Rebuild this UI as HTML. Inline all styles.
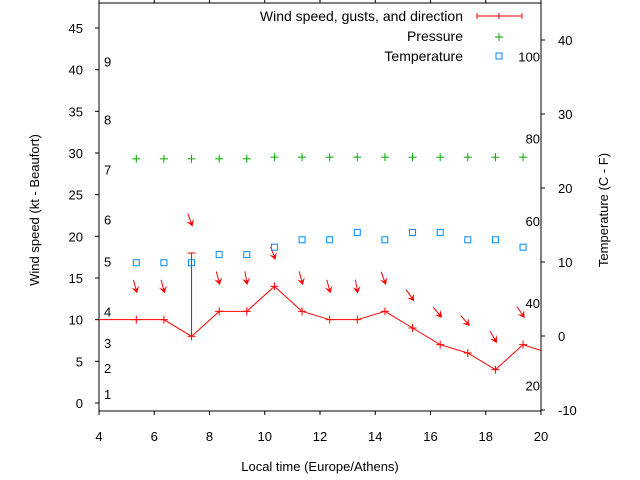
<!DOCTYPE html>
<html><head><meta charset="utf-8"><style>
body{margin:0;background:#fff}
svg{display:block;font-family:"Liberation Sans",sans-serif}
</style></head><body>
<svg id="chart" width="640" height="480" viewBox="0 0 640 480"></svg>
<script>
const hours=[5.35,6.35,7.35,8.35,9.35,10.35,11.35,12.35,13.35,14.35,15.35,16.35,17.35,18.35,19.35];
const wind=[10,10,8,11,11,14,11,10,10,11,9,7,6,4,7];
const gust=[0,0,18,0,0,0,0,0,0,0,0,0,0,0,0];
const windStart=[4,10];
const windEnd=[20,6.3];
const dirs=[345,345,340,345,350,340,345,345,350,340,325,320,320,330,325];
const pressure=[29.3,29.3,29.3,29.3,29.3,29.5,29.5,29.5,29.5,29.5,29.5,29.5,29.5,29.5,29.5];
const tempC=[9.9,9.9,9.9,11,11,12,13,13,14,13,14,14,13,13,12];
const xTicks=[4,6,8,10,12,14,16,18,20];
const yTicks=[0,5,10,15,20,25,30,35,40,45];
const y2Ticks=[-10,0,10,20,30,40];
const fLabels=[20,40,60,80,100];
const bftLabels=[[1,1.1],[2,4.2],[3,7.2],[4,11],[5,17],[6,22],[7,28],[8,34],[9,41]];

const L=99,R=541,T=3,B=411;
const X=h=>L+(h-4)*(R-L)/16;
const Y=v=>403-v*(375/45);
const Y2=c=>336-c*7.4;
const Yf=f=>Y2((f-32)*5/9);
const svg=document.getElementById('chart');
const NS='http://www.w3.org/2000/svg';
function mk(tag,attrs,parent){const e=document.createElementNS(NS,tag);for(const k in attrs)e.setAttribute(k,attrs[k]);(parent||svg).appendChild(e);return e;}
function txt(x,y,s,anchor,extra){const e=mk('text',Object.assign({x:x,y:y,'font-size':13,'text-anchor':anchor||'middle',fill:'#000'},extra||{}));e.textContent=s;return e;}

let e=mk('rect',{x:L,y:T,width:R-L,height:B-T,fill:'none',stroke:'#000','stroke-width':1});


xTicks.forEach(t=>{mk('line',{x1:X(t),x2:X(t),y1:B,y2:B+4,stroke:'#000'});mk('line',{x1:X(t),x2:X(t),y1:T,y2:T-4,stroke:'#000'});
 const l=txt(X(t),441,String(t));});
yTicks.forEach(t=>{mk('line',{x1:L-4,x2:L,y1:Y(t),y2:Y(t),stroke:'#000'});
 const l=txt(83,Y(t)+5,String(t),'end');});
y2Ticks.forEach(t=>{mk('line',{x1:R,x2:R+4,y1:Y2(t),y2:Y2(t),stroke:'#000'});
 const l=txt(558,Y2(t)+5,String(t),'start');});
fLabels.forEach(f=>{const l=txt(540,Yf(f)+5,String(f),'end');});
bftLabels.forEach(b=>{const l=txt(104,Y(b[1])+5,String(b[0]),'start');});

let t1=txt(320,471,'Local time (Europe/Athens)');
let t2=txt(0,0,'Wind speed (kt - Beaufort)','middle',{transform:'translate(39,210) rotate(-90)'});
let t3=txt(0,0,'Temperature (C - F)','middle',{transform:'translate(608,210) rotate(-90)'});

// wind line
let pts=[[X(windStart[0]),Y(windStart[1])]];
hours.forEach((h,i)=>pts.push([X(h),Y(wind[i])]));
pts.push([X(windEnd[0]),Y(windEnd[1])]);
let wl=mk('polyline',{points:pts.map(p=>p.join(',')).join(' '),fill:'none',stroke:'#f00','stroke-width':1});

hours.forEach((h,i)=>{const g=mk('g',{});
 
 const x=X(h),y=Y(wind[i]);
 mk('line',{x1:x-4,x2:x+4,y1:y,y2:y,stroke:'#f00'},g);mk('line',{x1:x,x2:x,y1:y-4,y2:y+4,stroke:'#f00'},g);
 if(gust[i]>wind[i]){mk('line',{x1:x,x2:x,y1:y,y2:Y(gust[i]),stroke:'#f00'},g);mk('line',{x1:x-4,x2:x+4,y1:Y(gust[i]),y2:Y(gust[i]),stroke:'#f00'},g);}
});
// arrows (pointing downwind: from N -> down)
hours.forEach((h,i)=>{const top=Math.max(wind[i],gust[i])+3.5;
 const x=X(h),y=Y(top);const a=(360-dirs[i])*Math.PI/180;
 const dx=Math.sin(a),dy=Math.cos(a);
 const g=mk('g',{});
 mk('line',{x1:x-dx*11,y1:y-dy*11,x2:x,y2:y,stroke:'#f00'},g);
 const px=-dy,py=dx;
 mk('polygon',{points:`${x+dx*3},${y+dy*3} ${x-dx*4+px*4},${y-dy*4+py*4} ${x-dx*1},${y-dy*1} ${x-dx*4-px*4},${y-dy*4-py*4}`,fill:'#f00'},g);
});
// pressure
hours.forEach((h,i)=>{const g=mk('g',{});
 const x=X(h),y=Y(pressure[i]);
 mk('line',{x1:x-4,x2:x+4,y1:y,y2:y,stroke:'#0a0'},g);mk('line',{x1:x,x2:x,y1:y-4,y2:y+4,stroke:'#0a0'},g);});
// temperature
hours.forEach((h,i)=>{const r=mk('rect',{x:X(h)-3,y:Y2(tempC[i])-3,width:6,height:6,fill:'none',stroke:'#08f','stroke-width':1});
 });

// legend
let lg=mk('g',{});
[['Wind speed, gusts, and direction',21],['Pressure',41],['Temperature',61]].forEach(a=>{const l=txt(463,a[1],a[0],'end',{'font-size':14});lg.appendChild(l);});
mk('line',{x1:477,x2:522,y1:16,y2:16,stroke:'#f00'},lg);
[477,499,522].forEach(x=>mk('line',{x1:x,x2:x,y1:13,y2:19,stroke:'#f00'},lg));
mk('line',{x1:495,x2:503,y1:37,y2:37,stroke:'#0a0'},lg);mk('line',{x1:499,x2:499,y1:33,y2:41,stroke:'#0a0'},lg);
mk('rect',{x:496,y:53,width:6,height:6,fill:'none',stroke:'#08f'},lg);
</script>
</body></html>
